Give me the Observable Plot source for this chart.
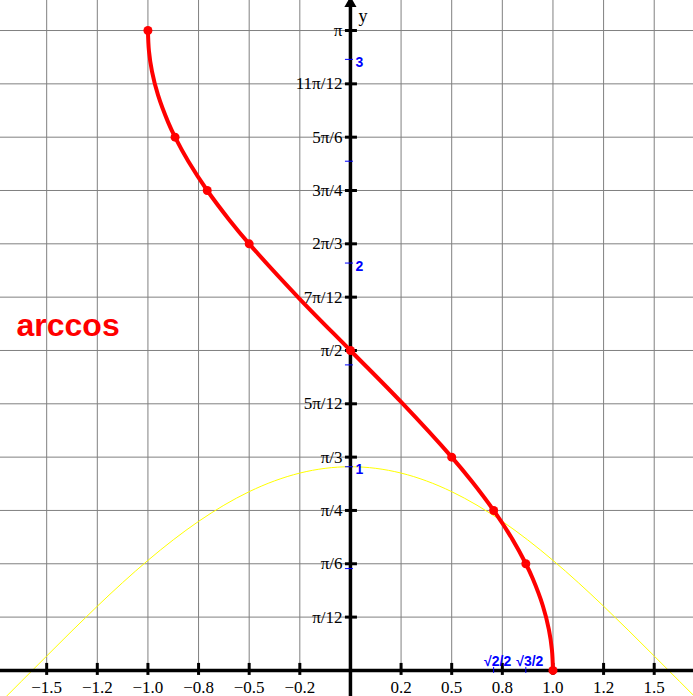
<!DOCTYPE html>
<html><head><meta charset="utf-8">
<script src="https://cdn.jsdelivr.net/npm/d3@7"></script>
<script src="https://cdn.jsdelivr.net/npm/@observablehq/plot@0.6"></script>
<style>body{margin:0;background:#fff}</style>
</head><body><div id="chart"></div>
<script>
// x grid / tick positions and labels
const xGridValues = [-1.5,-1.25,-1,-0.75,-0.5,-0.25,0,0.25,0.5,0.75,1,1.25,1.5];
const xTickValues = [-1.5,-1.25,-1,-0.75,-0.5,-0.25,0.25,0.5,0.75,1,1.25,1.5];
const xTickLabels = ["\u22121.5","\u22121.2","\u22121.0","\u22120.8","\u22120.5","\u22120.2","0.2","0.5","0.8","1.0","1.2","1.5"];
// y tick positions (multiples of pi/12) and labels
const yTickValues = [0.2618,0.5236,0.7854,1.0472,1.3090,1.5708,1.8326,2.0944,2.3562,2.6180,2.8798,3.1416];
const yTickLabels = ["\u03c0/12","\u03c0/6","\u03c0/4","\u03c0/3","5\u03c0/12","\u03c0/2","7\u03c0/12","2\u03c0/3","3\u03c0/4","5\u03c0/6","11\u03c0/12","\u03c0"];
// blue numeric ticks
const blueYTicks = [0.5,1,1.5,2,2.5,3];
const blueYValues = [1,2,3];
const blueYLabels = ["1","2","3"];
const blueXValues = [0.7071,0.8660];
const blueXLabels = ["\u221a2/2","\u221a3/2"];
// arccos curve samples
const arccosX = [-1,-0.995,-0.98,-0.95,-0.9,-0.866,-0.8,-0.7071,-0.6,-0.5,-0.25,0,0.25,0.5,0.6,0.7071,0.8,0.866,0.9,0.95,0.98,0.995,1];
const arccosY = [3.1416,3.0415,2.9413,2.8240,2.6906,2.6180,2.4981,2.3562,2.2143,2.0944,1.8235,1.5708,1.3181,1.0472,0.9273,0.7854,0.6435,0.5236,0.4510,0.3176,0.2003,0.1001,0];
// highlighted points
const keyX = [-1,-0.866,-0.7071,-0.5,0,0.5,0.7071,0.866,1];
const keyY = [3.1416,2.6180,2.3562,2.0944,1.5708,1.0472,0.7854,0.5236,0];
// cos curve (yellow)
const cosX = [-1.75,-1.5,-1.25,-1,-0.75,-0.5,-0.25,0,0.25,0.5,0.75,1,1.25,1.5,1.75];
const cosY = [-0.1782,0.0707,0.3153,0.5403,0.7317,0.8776,0.9689,1,0.9689,0.8776,0.7317,0.5403,0.3153,0.0707,-0.1782];

const xDomain = [-1.728, 1.694];
const yDomain = [-0.128, 3.289];

const arccosData = arccosX.map((x, i) => ({x, y: arccosY[i]}));
const keyData = keyX.map((x, i) => ({x, y: keyY[i]}));
const cosData = cosX.map((x, i) => ({x, y: cosY[i]}));

const serif = "'Liberation Serif', 'Times New Roman', serif";
const sans = "'Liberation Sans', Arial, sans-serif";

const chart = Plot.plot({
  width: 693, height: 696, margin: 0,
  x: {domain: xDomain, axis: null},
  y: {domain: yDomain, axis: null},
  style: {background: "#fff"},
  marks: [
    Plot.ruleX(xGridValues, {x: d => d, y1: 0, y2: yDomain[1], stroke: "#808080", strokeWidth: 1, strokeOpacity: 1}),
    Plot.ruleY(yTickValues, {y: d => d, stroke: "#808080", strokeWidth: 1, strokeOpacity: 1}),
    Plot.line(cosData, {x: "x", y: "y", curve: "natural", stroke: "#ffff00", strokeWidth: 1, clip: true}),
    Plot.ruleX([0], {stroke: "#000", strokeWidth: 3.5}),
    Plot.ruleY([0], {stroke: "#000", strokeWidth: 3.5}),
    Plot.dot([0], {x: d => d, frameAnchor: "top", symbol: "triangle", r: 4.5, fill: "#000", stroke: "none", dy: 3}),
    Plot.ruleY(yTickValues, {y: d => d, x1: 0, x2: 0, insetLeft: -5, insetRight: -7, stroke: "#000", strokeWidth: 3}),
    Plot.ruleX(xTickValues, {x: d => d, y1: 0, y2: 0, insetTop: -7, insetBottom: -5, stroke: "#000", strokeWidth: 3}),
    Plot.ruleY(blueYTicks, {y: d => d, x1: 0, x2: 0, insetLeft: -5, insetRight: -3, stroke: "#0000ff", strokeWidth: 1}),
    Plot.ruleX(blueXValues, {x: d => d, y1: 0, y2: 0, insetTop: -3, insetBottom: -3, stroke: "#0000ff", strokeWidth: 1}),
    Plot.text(yTickValues, {x: 0, y: d => d, text: (d, i) => yTickLabels[i], textAnchor: "end", dx: -8, fontFamily: serif, fontSize: 17, fill: "#000"}),
    Plot.text(xTickValues, {x: d => d, y: 0, text: (d, i) => xTickLabels[i], dy: 17, fontFamily: serif, fontSize: 17, fill: "#000"}),
    Plot.text(blueYValues, {x: 0, y: d => d, text: (d, i) => blueYLabels[i], textAnchor: "start", dx: 5, dy: 3, fontFamily: sans, fontWeight: "bold", fontSize: 14, fill: "#0000ff"}),
    Plot.text(blueXValues, {x: d => d, y: 0, text: (d, i) => blueXLabels[i], dx: 4, dy: -9, fontFamily: sans, fontWeight: "bold", fontSize: 14, fill: "#0000ff"}),
    Plot.text(["y"], {x: 0, frameAnchor: "top", text: d => d, textAnchor: "start", dx: 8, dy: 9, fontFamily: serif, fontSize: 18, fill: "#000"}),
    Plot.text(["arccos"], {frameAnchor: "left", text: d => d, textAnchor: "start", dx: 16, dy: -23, fontFamily: sans, fontWeight: "bold", fontSize: 32, fill: "#ff0000"}),
    Plot.line(arccosData, {x: "x", y: "y", curve: "catmull-rom", stroke: "#ff0000", strokeWidth: 4}),
    Plot.dot(keyData, {x: "x", y: "y", r: 4.5, fill: "#ff0000", stroke: "none"})
  ]
});
document.getElementById("chart").appendChild(chart);
</script>
</body></html>
